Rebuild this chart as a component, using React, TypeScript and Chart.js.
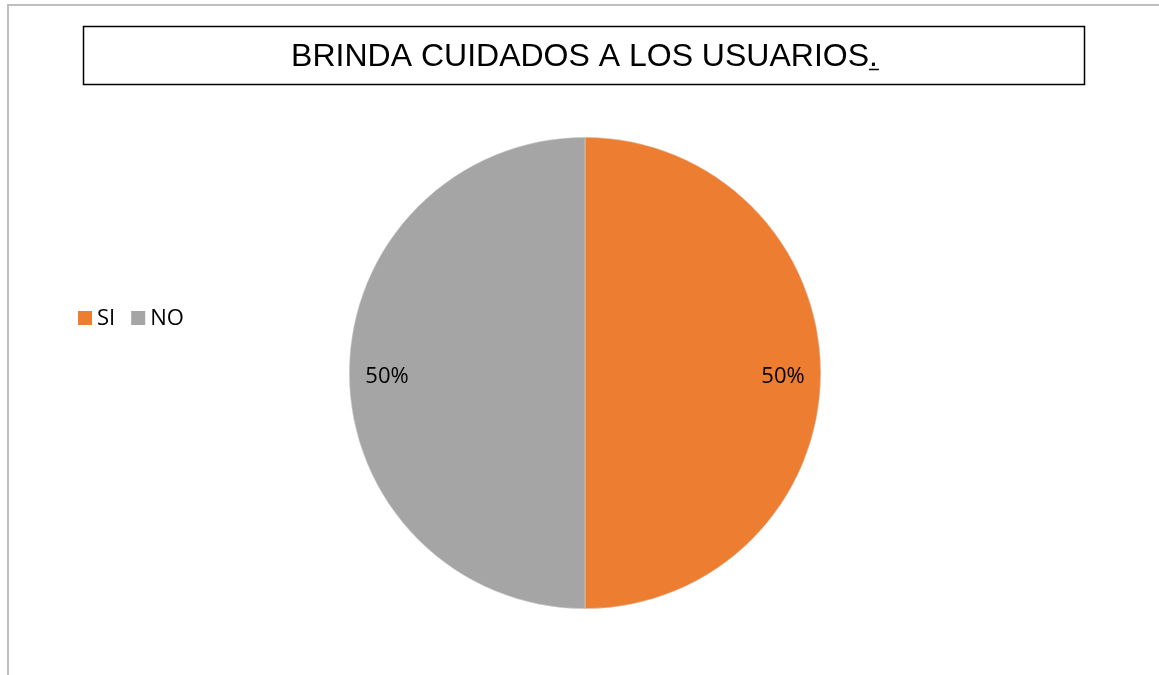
import React, { useEffect, useRef } from "react";
import { Chart, registerables } from "chart.js";

Chart.register(...registerables);

const categories = ["SI", "NO"];
const values = [50, 50];
const percentLabels = ["50%", "50%"];
const titleText = "BRINDA CUIDADOS A LOS USUARIOS";
const titleSuffix = ".";
const colors = ["#ED7D31", "#A5A5A5"];

const framePlugin = {
  id: "framePlugin",
  beforeDraw(chart: any) {
    const ctx = chart.ctx;
    ctx.save();
    ctx.fillStyle = "#ffffff";
    ctx.fillRect(0, 0, chart.width, chart.height);
    // outer frame
    ctx.strokeStyle = "#BFBFBF";
    ctx.lineWidth = 2;
    ctx.beginPath();
    ctx.moveTo(8, 680);
    ctx.lineTo(8, 5);
    ctx.lineTo(1160, 5);
    ctx.stroke();
    // title box
    ctx.strokeStyle = "#000000";
    ctx.lineWidth = 1.5;
    ctx.strokeRect(83.5, 26.5, 1001, 58);
    ctx.fillStyle = "#000000";
    ctx.font = "32px 'Liberation Sans', Arial, sans-serif";
    ctx.textBaseline = "alphabetic";
    const w1 = ctx.measureText(titleText).width;
    const w2 = ctx.measureText(titleSuffix).width;
    const x0 = 584.5 - (w1 + w2) / 2;
    ctx.textAlign = "left";
    ctx.fillText(titleText, x0, 66);
    ctx.fillText(titleSuffix, x0 + w1, 66);
    ctx.lineWidth = 1.5;
    ctx.beginPath();
    ctx.moveTo(x0 + w1, 69.5);
    ctx.lineTo(x0 + w1 + w2 + 1, 69.5);
    ctx.stroke();
    // legend
    ctx.font = "22px 'Open Sans', 'Liberation Sans', sans-serif";
    ctx.textBaseline = "middle";
    let lx = 78;
    const ly = 318;
    categories.forEach((c, i) => {
      ctx.fillStyle = colors[i];
      ctx.fillRect(lx, ly - 7, 14, 14);
      ctx.fillStyle = "#000000";
      ctx.fillText(c, lx + 19, ly + 1);
      lx += 19 + ctx.measureText(c).width + 16;
    });
    ctx.restore();
  },
};

const labelPlugin = {
  id: "labelPlugin",
  afterDatasetsDraw(chart: any) {
    const ctx = chart.ctx;
    const meta = chart.getDatasetMeta(0);
    ctx.save();
    ctx.font = "22px 'Open Sans', 'Liberation Sans', sans-serif";
    ctx.fillStyle = "#000000";
    ctx.textAlign = "center";
    ctx.textBaseline = "middle";
    meta.data.forEach((arc: any, i: number) => {
      const p = arc.getProps(["x", "y", "startAngle", "endAngle", "outerRadius"], true);
      const mid = (p.startAngle + p.endAngle) / 2;
      const r = p.outerRadius * 0.84;
      ctx.fillText(percentLabels[i], p.x + Math.cos(mid) * r, p.y + Math.sin(mid) * r + 4);
    });
    ctx.restore();
  },
};

export default function App() {
  const ref = useRef<HTMLCanvasElement>(null);
  useEffect(() => {
    if (!ref.current) return;
    const chart = new Chart(ref.current, {
      type: "pie",
      data: {
        labels: categories,
        datasets: [
          {
            data: values,
            backgroundColor: colors,
            borderColor: "#D9D9D9",
            borderWidth: 0.5,
          },
        ],
      },
      options: {
        animation: false,
        responsive: false,
        layout: { padding: { left: 349, right: 338, top: 137, bottom: 66 } },
        plugins: {
          legend: { display: false },
          title: { display: false },
          tooltip: { enabled: false },
        },
      },
      plugins: [framePlugin, labelPlugin],
    });
    return () => chart.destroy();
  }, []);
  return (
    <div style={{ position: "absolute", left: 0, top: 0, width: 1159, height: 675 }}>
      <canvas ref={ref} width={1159} height={675} style={{ width: 1159, height: 675 }} />
    </div>
  );
}
